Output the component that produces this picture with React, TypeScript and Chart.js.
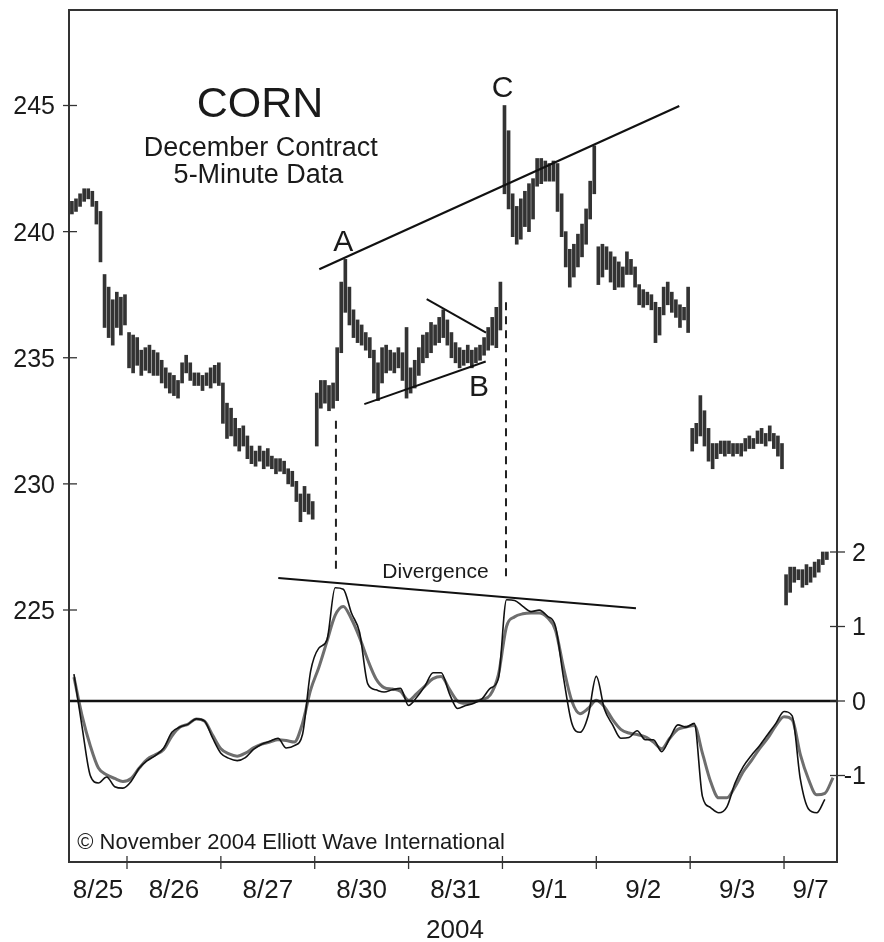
import React, { useEffect, useRef } from "react";
import { Chart, registerables } from "chart.js";

Chart.register(...registerables);

const FONT = '"Liberation Sans", Arial, Helvetica, sans-serif';

// ---------- axis labels ----------
const dayLabels = ["8/25", "8/26", "8/27", "8/30", "8/31", "9/1", "9/2", "9/3", "9/7"];
const yearLabel = "2004";
const priceTicks = [225, 230, 235, 240, 245];
const oscTicks = [2, 1, 0, -1];
const BARS_PER_DAY = 23; // grouped 5-minute bars per session

// ---------- price bars: [low, high] ----------
const bars0825 = [
  [240.7, 241.2], [240.8, 241.3], [241.0, 241.5], [241.2, 241.7], [241.3, 241.7], [241.0, 241.6], [240.3, 241.2],
  [238.8, 240.8], [236.2, 238.3], [235.8, 237.8], [235.5, 237.3], [236.2, 237.6], [235.9, 237.4], [236.3, 237.5],
];
const bars0826 = [
  [234.6, 236.0], [234.4, 235.9], [234.7, 235.8], [234.3, 235.3], [234.5, 235.4], [234.4, 235.5], [234.3, 235.3],
  [234.3, 235.2], [234.0, 234.9], [233.8, 234.6], [233.6, 234.4], [233.5, 234.3], [233.4, 234.1], [234.0, 234.8],
  [234.4, 235.1], [234.1, 234.8], [233.9, 234.4], [233.9, 234.4], [233.7, 234.3], [233.9, 234.4], [233.8, 234.6],
  [234.0, 234.7], [233.9, 234.8],
];
const bars0827 = [
  [232.4, 234.0], [231.8, 233.2], [231.9, 233.0], [231.5, 232.6], [231.3, 232.2], [231.5, 232.3], [231.0, 231.9],
  [230.8, 231.5], [230.7, 231.3], [230.9, 231.5], [230.6, 231.3], [230.7, 231.4], [230.6, 231.1], [230.4, 231.0],
  [230.5, 231.0], [230.4, 230.9], [230.0, 230.6], [229.9, 230.5], [229.3, 230.1], [228.5, 229.6], [228.9, 229.9],
  [228.8, 229.6], [228.6, 229.3],
];
const bars0830 = [
  [231.5, 233.6], [233.0, 234.1], [233.2, 234.1], [232.9, 233.9], [233.0, 234.0], [233.3, 235.4], [235.2, 238.0],
  [236.8, 238.9], [236.3, 237.8], [235.8, 236.9], [235.6, 236.5], [235.5, 236.3], [235.3, 236.0], [235.0, 235.8],
  [233.6, 235.3], [233.3, 234.8], [234.0, 235.4], [234.4, 235.5], [234.5, 235.3], [234.4, 235.2], [234.6, 235.4],
  [234.1, 235.2], [233.4, 236.2],
];
const bars0831 = [
  [233.6, 234.6], [233.8, 234.9], [234.3, 235.4], [234.8, 235.9], [235.0, 236.0], [235.2, 236.4], [235.5, 236.3],
  [235.6, 236.6], [235.8, 236.9], [235.5, 236.5], [235.0, 236.0], [234.8, 235.6], [234.6, 235.4], [234.7, 235.3],
  [234.8, 235.5], [234.6, 235.3], [234.8, 235.4], [234.9, 235.5], [235.1, 235.8], [235.3, 236.2], [235.5, 236.6],
  [235.4, 237.0], [236.1, 238.0],
];
const bars0901 = [
  [241.5, 245.0], [240.9, 244.0], [239.8, 241.5], [239.5, 241.0], [239.7, 241.3], [240.2, 241.6], [240.0, 241.9],
  [240.5, 242.1], [241.8, 242.9], [241.9, 242.9], [242.0, 242.8], [242.0, 242.7], [242.0, 242.8], [240.8, 242.7],
  [239.8, 241.5], [238.6, 240.0], [237.8, 239.3], [238.2, 239.5], [238.6, 239.9], [239.0, 240.3], [239.5, 240.9],
  [240.5, 242.0], [241.5, 243.4],
];
const bars0902 = [
  [237.9, 239.4], [238.2, 239.5], [238.5, 239.4], [238.0, 239.2], [237.7, 239.0], [237.8, 238.8], [237.8, 238.6],
  [238.3, 239.2], [238.3, 238.9], [237.8, 238.6], [237.1, 237.9], [237.0, 237.7], [237.1, 237.6], [236.9, 237.5],
  [235.6, 237.2], [235.9, 237.0], [236.7, 237.8], [237.1, 238.0], [236.8, 237.6], [236.6, 237.3], [236.2, 237.1],
  [236.5, 237.0], [236.0, 237.8],
];
const bars0903 = [
  [231.3, 232.2], [231.6, 232.4], [231.9, 233.5], [231.5, 232.9], [230.9, 232.2], [230.6, 231.6], [231.0, 231.6],
  [231.2, 231.7], [231.1, 231.7], [231.2, 231.7], [231.1, 231.6], [231.2, 231.6], [231.1, 231.6], [231.3, 231.8],
  [231.4, 231.9], [231.4, 231.8], [231.6, 232.1], [231.6, 232.2], [231.5, 232.0], [231.7, 232.3], [231.4, 232.0],
  [231.1, 231.9], [230.6, 231.6],
];
const bars0907 = [
  [225.2, 226.4], [225.7, 226.7], [226.1, 226.7], [226.2, 226.6], [225.9, 226.6], [226.0, 226.8], [226.1, 226.7],
  [226.3, 226.9], [226.5, 227.0], [226.8, 227.3], [227.0, 227.3],
];
const sessions = [bars0825, bars0826, bars0827, bars0830, bars0831, bars0901, bars0902, bars0903, bars0907];

// ---------- oscillator (one reading every 2 bars, starting at bar 10) ----------
const OSC_START = 10;
const OSC_STEP = 2;
const oscFast = [
  0.36, -0.35, -1.0, -1.1, -1.02, -1.15, -1.17, -1.08, -0.9, -0.8,
  -0.73, -0.63, -0.42, -0.35, -0.31, -0.24, -0.27, -0.5, -0.7, -0.77,
  -0.8, -0.76, -0.65, -0.58, -0.54, -0.5, -0.63, -0.6, -0.45, 0.4,
  0.71, 0.82, 1.52, 1.5, 1.18, 0.92, 0.23, 0.15, 0.12, 0.15,
  0.17, -0.06, 0.05, 0.2, 0.38, 0.38, 0.1, -0.1, -0.06, -0.03,
  0.03, 0.17, 0.3, 1.36, 1.35, 1.27, 1.2, 1.22, 1.14, 1.0,
  0.3, -0.3, -0.42, -0.2, 0.33, -0.11, -0.32, -0.5, -0.49, -0.4,
  -0.52, -0.52, -0.68, -0.5, -0.32, -0.35, -0.3, -1.28, -1.43, -1.5,
  -1.42, -1.1, -0.88, -0.73, -0.6, -0.45, -0.3, -0.14, -0.2, -1.05,
  -1.45, -1.5, -1.32, null,
];
const oscSlow = [
  0.32, -0.2, -0.6, -0.9, -0.99, -1.04, -1.08, -1.04, -0.9, -0.78,
  -0.72, -0.65, -0.47, -0.35, -0.31, -0.24, -0.27, -0.46, -0.64, -0.71,
  -0.74, -0.7, -0.63, -0.58, -0.55, -0.52, -0.53, -0.55, -0.3, 0.15,
  0.45, 0.8, 1.15, 1.27, 1.1, 0.85, 0.55, 0.3, 0.18, 0.16,
  0.13, 0.01, 0.1, 0.2, 0.3, 0.33, 0.16, 0.0, -0.03, -0.01,
  0.02, 0.08, 0.35, 1.0, 1.13, 1.17, 1.18, 1.18, 1.12, 0.95,
  0.44, 0.0, -0.17, -0.1, 0.01, -0.08, -0.25, -0.38, -0.43, -0.45,
  -0.48, -0.55, -0.64, -0.5, -0.38, -0.35, -0.33, -0.7, -1.08, -1.3,
  -1.3, -1.15, -0.95, -0.8, -0.64, -0.5, -0.33, -0.21, -0.25, -0.72,
  -1.05, -1.26, -1.24, -1.03,
];

// ---------- build chart data ----------
const priceData: { x: number; y: number[] }[] = [];
sessions.forEach((bars, d) => {
  const offset = d === 0 ? BARS_PER_DAY - bars.length : 0;
  bars.forEach((b, j) => {
    priceData.push({ x: d * BARS_PER_DAY + offset + j + 0.5, y: [b[0], b[1]] });
  });
});
const toOsc = (arr: (number | null)[]) => arr.map((v, i) => ({ x: OSC_START + i * OSC_STEP, y: v }));

// ---------- layout constants ----------
const X_MIN = 8.787;
const X_MAX = 196.98;

const decorPlugin = {
  id: "decor",
  afterDatasetsDraw(chart: any) {
    const { ctx, chartArea: a, scales } = chart;
    const X = (v: number) => scales.x.getPixelForValue(v);
    const P = (v: number) => scales.y.getPixelForValue(v);
    const O = (v: number) => scales.yOsc.getPixelForValue(v);
    const seg = (x1: number, y1: number, x2: number, y2: number) => {
      ctx.beginPath();
      ctx.moveTo(x1, y1);
      ctx.lineTo(x2, y2);
      ctx.stroke();
    };
    const text = (s: string, x: number, yc: number, size: number, align: CanvasTextAlign) => {
      ctx.font = `${size}px ${FONT}`;
      ctx.textAlign = align;
      ctx.textBaseline = "alphabetic";
      ctx.fillText(s, x, yc + size * 0.358);
    };
    ctx.save();
    ctx.lineCap = "butt";

    // zero line
    ctx.strokeStyle = "#111";
    ctx.lineWidth = 2.6;
    seg(a.left, O(0), a.right, O(0));

    // trendlines
    ctx.lineWidth = 2.2;
    seg(X(70.12), P(238.51), X(158.33), P(244.98)); // A - C
    ctx.lineWidth = 2;
    seg(X(96.44), P(237.32), X(110.97), P(236.0)); // triangle upper
    seg(X(81.15), P(233.16), X(110.9), P(234.85)); // triangle lower
    seg(X(60.07), O(1.65), X(147.72), O(1.244)); // divergence

    // dashed verticals
    ctx.setLineDash([8, 6]);
    ctx.lineWidth = 2;
    ctx.strokeStyle = "#222";
    seg(X(74.2), P(232.5), X(74.2), O(1.72));
    seg(X(115.87), P(237.2), X(115.87), O(1.6));
    ctx.setLineDash([]);

    // frame
    ctx.strokeStyle = "#333";
    ctx.lineWidth = 2;
    ctx.strokeRect(a.left, a.top, a.right - a.left, a.bottom - a.top);

    // ticks
    ctx.lineWidth = 1.3;
    ctx.fillStyle = "#1a1a1a";
    priceTicks.forEach((t) => {
      const y = P(t);
      seg(a.left - 6, y, a.left + 8, y);
      text(String(t), 55, y, 25, "right");
    });
    oscTicks.forEach((t) => {
      const y = O(t);
      seg(a.right - 7, y, a.right + 8, y);
      text(String(t), 866, y, 25, "right");
    });
    for (let k = 1; k < dayLabels.length; k++) {
      const x = X(k * BARS_PER_DAY);
      seg(x, a.bottom - 6, x, a.bottom + 7);
    }
    dayLabels.forEach((lab, d) => {
      const lo = Math.max(d * BARS_PER_DAY, X_MIN);
      const hi = Math.min((d + 1) * BARS_PER_DAY, X_MAX);
      text(lab, X((lo + hi) / 2), 888.3, 26, "center");
    });
    text(yearLabel, (a.left + a.right) / 2 + 2, 929, 26, "center");

    // titles and annotations
    text("CORN", X(55.59), P(245.167), 43, "center");
    text("December Contract", X(55.79), P(243.367), 27, "center");
    text("5-Minute Data", X(55.2), P(242.312), 27, "center");
    text("A", X(76.0), P(239.668), 30, "center");
    text("B", X(109.25), P(233.92), 30, "center");
    text("C", X(115.01), P(245.77), 30, "center");
    text("Divergence", X(98.59), O(1.748), 21, "center");
    text("\u00A9 November 2004 Elliott Wave International", X(10.82), P(215.84), 22, "left");

    ctx.restore();
  },
};

export default function App() {
  const ref = useRef<HTMLCanvasElement>(null);
  useEffect(() => {
    if (!ref.current) return;
    const chart = new Chart(ref.current, {
      type: "bar",
      data: {
        datasets: [
          {
            type: "line",
            label: "fast",
            data: toOsc(oscFast),
            yAxisID: "yOsc",
            borderColor: "#111",
            borderWidth: 1.6,
            pointRadius: 0,
            cubicInterpolationMode: "monotone",
            spanGaps: false,
          } as any,
          {
            type: "line",
            label: "slow",
            data: toOsc(oscSlow),
            yAxisID: "yOsc",
            borderColor: "#6e6e6e",
            borderWidth: 3,
            pointRadius: 0,
            cubicInterpolationMode: "monotone",
          } as any,
          {
            type: "bar",
            label: "price",
            data: priceData as any,
            yAxisID: "y",
            backgroundColor: "#333333",
            borderWidth: 0,
            barThickness: 3,
          } as any,
        ],
      },
      options: {
        responsive: false,
        animation: false,
        devicePixelRatio: 1,
        events: [],
        layout: { padding: { left: 69, right: 47, top: 10, bottom: 80 } },
        plugins: { legend: { display: false }, tooltip: { enabled: false } },
        scales: {
          x: { type: "linear", display: false, min: X_MIN, max: X_MAX, offset: false },
          y: { type: "linear", display: false, min: 215.01, max: 248.786 },
          yOsc: { type: "linear", display: false, min: -2.161, max: 9.275 },
        },
      } as any,
      plugins: [decorPlugin],
    });
    return () => chart.destroy();
  }, []);
  return (
    <div style={{ position: "absolute", left: 0, top: 0, width: 884, height: 942, background: "#fff" }}>
      <canvas ref={ref} width={884} height={942} style={{ display: "block" }} />
    </div>
  );
}
